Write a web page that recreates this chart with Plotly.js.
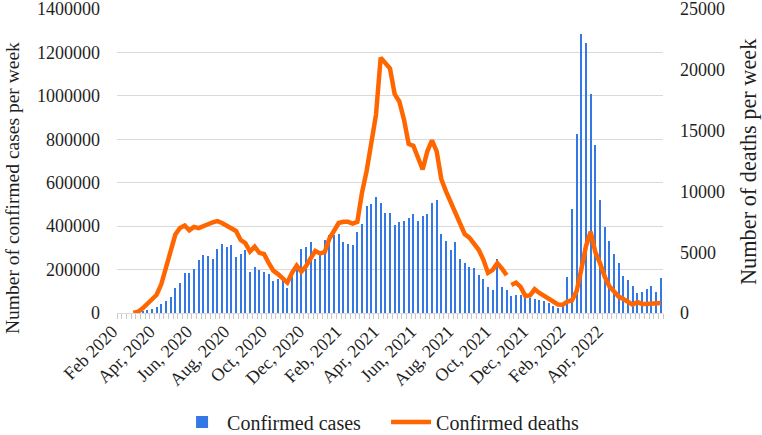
<!DOCTYPE html>
<html>
<head>
<meta charset="utf-8">
<script src="https://cdn.plot.ly/plotly-3.0.1.min.js"></script>
<style>html,body{margin:0;padding:0;background:#fff;}#chart{width:762px;height:435px;}</style>
</head>
<body>
<div id="chart"></div>
<script>
// Tick labels shown every 8 weekly categories
var tickLabels = ["Feb 2020","Apr, 2020","Jun, 2020","Aug, 2020","Oct, 2020","Dec, 2020",
  "Feb, 2021","Apr, 2021","Jun, 2021","Aug, 2021","Oct, 2021","Dec, 2021","Feb, 2022","Apr, 2022"];

// Confirmed cases per week (117 weeks)
var confirmedCases = [
  0,0,0,1000,3000,7000,
  13000,19000,26000,40000,57000,74000,116000,136000,182000,185000,
  203000,245000,266000,262000,248000,297000,320000,302000,315000,257000,
  274000,289000,190000,213000,200000,190000,178000,147000,155000,155000,
  116000,177000,200000,297000,302000,328000,251000,274000,336000,360000,
  359000,363000,328000,320000,313000,374000,412000,493000,504000,532000,
  507000,461000,461000,405000,420000,423000,438000,454000,423000,447000,
  458000,507000,520000,363000,332000,290000,325000,247000,231000,210000,
  205000,175000,155000,118000,106000,247000,118000,106000,80000,83000,
  83000,71000,71000,66000,62000,57000,45000,30000,24000,30000,
  164000,481000,823000,1283000,1243000,1010000,776000,520000,397000,332000,
  270000,229000,172000,150000,124000,93000,98000,112000,124000,98000,
  160000
];

// Confirmed deaths per week (117 weeks)
var confirmedDeaths = [
  null,null,null,0,100,380,730,1070,1500,2380,
  3700,5200,6450,7000,7200,6800,7080,6980,7180,7300,
  7450,7550,7400,7200,7000,6750,6000,5750,5050,5450,
  4950,4850,4130,3480,3200,2900,2500,3300,3900,3400,
  3850,4500,5100,4900,5000,6100,6850,7400,7500,7500,
  7350,7500,9900,11700,14000,16300,21000,20600,20100,18000,
  17400,15900,13900,13750,12800,11800,13300,14200,13300,11000,
  10000,9100,8100,7200,6500,6200,5700,5200,4400,3300,
  3550,4100,3650,3100,2300,2500,2150,1400,1450,1950,
  1650,1400,1100,850,700,680,950,1050,1800,3600,
  5500,6680,5000,4100,3000,2200,1750,1350,1150,900,
  680,900,750,750,750,760,820
];

var leftTitle = 'Number of confirmed cases per week';
var rightTitle = 'Number of deaths per week';

var weeks = confirmedCases.map(function(_, i){ return i; });
var tickStep = 8;
var tickVals = tickLabels.map(function(_, k){ return k * tickStep; });
var breakAt = 84; // the deaths line is broken before this week

var FONT = "'Liberation Serif', 'Times New Roman', serif";
var TXT = '#1f1f1f';

var traces = [
  {
    type: 'bar', name: 'Confirmed cases', x: weeks, y: confirmedCases,
    marker: {color: '#3478e6'}, width: 0.4, yaxis: 'y', legendgroup: 'c'
  },
  {
    type: 'scatter', mode: 'lines', name: 'Confirmed deaths',
    x: weeks.slice(0, breakAt), y: confirmedDeaths.slice(0, breakAt),
    line: {color: '#ff6600', width: 4.5}, yaxis: 'y2', legendgroup: 'd'
  },
  {
    type: 'scatter', mode: 'lines', name: 'Confirmed deaths', showlegend: false,
    x: weeks.slice(breakAt), y: confirmedDeaths.slice(breakAt),
    line: {color: '#ff6600', width: 4.5}, yaxis: 'y2', legendgroup: 'd'
  }
];

var layout = {
  width: 762, height: 435,
  margin: {l: 117, r: 99, t: 9, b: 122, autoexpand: false},
  paper_bgcolor: '#fff', plot_bgcolor: '#fff',
  font: {family: FONT, color: TXT, size: 18},
  showlegend: true,
  legend: {orientation: 'h', x: 0.11, xanchor: 'left', yref: 'container', y: 0.03, yanchor: 'middle',
           font: {family: FONT, size: 20, color: TXT}, itemwidth: 40, tracegroupgap: 0,
           entrywidth: 154, entrywidthmode: 'pixels'},
  bargap: 0,
  xaxis: {
    range: [-0.5, weeks.length - 0.5],
    tickmode: 'array', tickvals: tickVals, ticktext: tickLabels,
    tickangle: -45, tickfont: {family: FONT, size: 18, color: TXT},
    ticklabelshift: -7,
    showgrid: false, zeroline: false,
    showline: true, linecolor: '#d9d9d9', linewidth: 1,
    ticks: '',
    minor: {tick0: 0.5, dtick: 1, ticks: 'outside', ticklen: 5, tickcolor: '#c8c8c8', tickwidth: 1, showgrid: false},
    automargin: false
  },
  yaxis: {
    range: [0, 1400000], dtick: 200000, tickformat: 'd',
    tickfont: {family: FONT, size: 18, color: TXT},
    showgrid: true, gridcolor: '#d9d9d9', gridwidth: 1.2,
    zeroline: false, showline: false, ticks: '',
    ticklabelstandoff: 16, ticklabeloverflow: 'allow',
    automargin: false
  },
  yaxis2: {
    overlaying: 'y', side: 'right',
    range: [0, 25000], dtick: 5000, tickformat: 'd',
    tickfont: {family: FONT, size: 18, color: TXT},
    showgrid: false, zeroline: false, showline: false, ticks: '',
    ticklabelstandoff: 16, ticklabeloverflow: 'allow',
    automargin: false
  },
  annotations: [
    {text: leftTitle, textangle: -90, xref: 'paper', yref: 'paper',
     x: -105/546, y: (313-188)/304, xanchor: 'center', yanchor: 'middle', showarrow: false,
     font: {family: FONT, size: 19.5, color: TXT}},
    {text: rightTitle, textangle: -90, xref: 'paper', yref: 'paper',
     x: (748-117)/546, y: (313-161)/304, xanchor: 'center', yanchor: 'middle', showarrow: false,
     font: {family: FONT, size: 22.3, color: TXT}}
  ]
};

Plotly.newPlot('chart', traces, layout, {displayModeBar: false, staticPlot: true});
</script>
</body>
</html>
